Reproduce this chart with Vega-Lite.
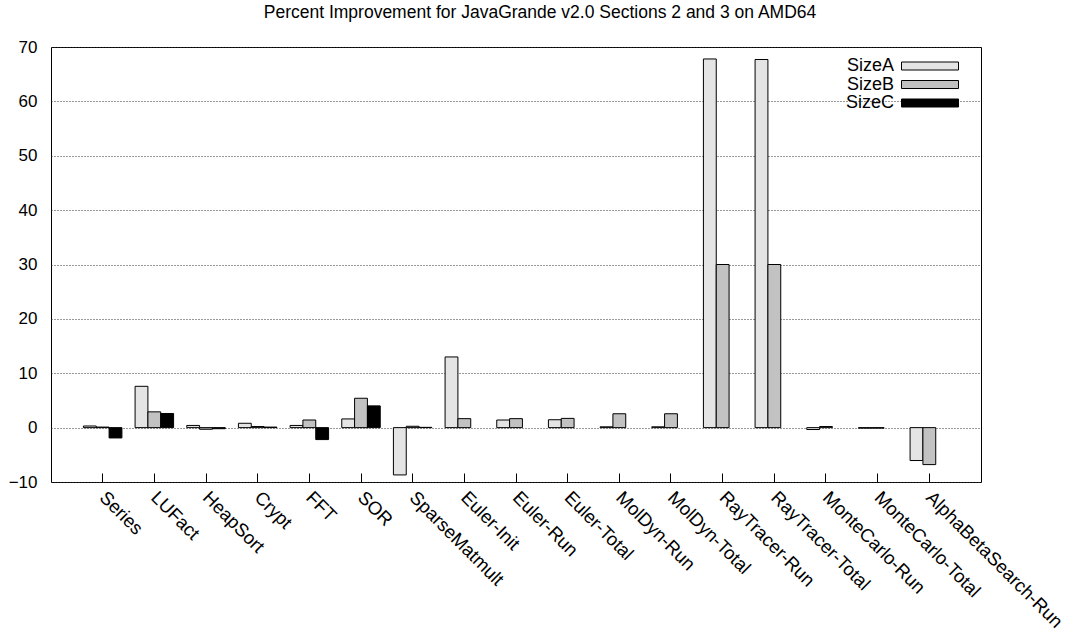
{
  "$schema": "https://vega.github.io/schema/vega-lite/v6.json",
  "autosize": {"type": "none"},
  "padding": {"left": 51, "top": 47, "right": 98, "bottom": 158},
  "width": 930,
  "height": 435,
  "background": "white",
  "title": {
    "text": "Percent Improvement for JavaGrande v2.0 Sections 2 and 3 on AMD64",
    "font": "Liberation Sans",
    "fontSize": 17.5,
    "fontWeight": "normal",
    "color": "black",
    "anchor": "middle",
    "dx": 24,
    "baseline": "alphabetic",
    "offset": 3
  },
  "config": {
    "view": {"stroke": "black", "strokeWidth": 1},
    "axis": {"labelFont": "Liberation Sans", "labelColor": "black"}
  },
  "data": {
    "values": [
      {"benchmark": "Series", "size": "SizeA", "value": 0.3},
      {"benchmark": "Series", "size": "SizeB", "value": 0.1},
      {"benchmark": "Series", "size": "SizeC", "value": -1.9},
      {"benchmark": "LUFact", "size": "SizeA", "value": 7.6},
      {"benchmark": "LUFact", "size": "SizeB", "value": 2.9},
      {"benchmark": "LUFact", "size": "SizeC", "value": 2.6},
      {"benchmark": "HeapSort", "size": "SizeA", "value": 0.4},
      {"benchmark": "HeapSort", "size": "SizeB", "value": -0.3},
      {"benchmark": "HeapSort", "size": "SizeC", "value": -0.2},
      {"benchmark": "Crypt", "size": "SizeA", "value": 0.8},
      {"benchmark": "Crypt", "size": "SizeB", "value": 0.2},
      {"benchmark": "Crypt", "size": "SizeC", "value": 0.1},
      {"benchmark": "FFT", "size": "SizeA", "value": 0.4},
      {"benchmark": "FFT", "size": "SizeB", "value": 1.4},
      {"benchmark": "FFT", "size": "SizeC", "value": -2.2},
      {"benchmark": "SOR", "size": "SizeA", "value": 1.6},
      {"benchmark": "SOR", "size": "SizeB", "value": 5.4},
      {"benchmark": "SOR", "size": "SizeC", "value": 4.0},
      {"benchmark": "SparseMatmult", "size": "SizeA", "value": -8.7},
      {"benchmark": "SparseMatmult", "size": "SizeB", "value": 0.25},
      {"benchmark": "SparseMatmult", "size": "SizeC", "value": 0.05},
      {"benchmark": "Euler-Init", "size": "SizeA", "value": 13.0},
      {"benchmark": "Euler-Init", "size": "SizeB", "value": 1.65},
      {"benchmark": "Euler-Run", "size": "SizeA", "value": 1.4},
      {"benchmark": "Euler-Run", "size": "SizeB", "value": 1.65},
      {"benchmark": "Euler-Total", "size": "SizeA", "value": 1.45},
      {"benchmark": "Euler-Total", "size": "SizeB", "value": 1.7},
      {"benchmark": "MolDyn-Run", "size": "SizeA", "value": 0.15},
      {"benchmark": "MolDyn-Run", "size": "SizeB", "value": 2.55},
      {"benchmark": "MolDyn-Total", "size": "SizeA", "value": 0.15},
      {"benchmark": "MolDyn-Total", "size": "SizeB", "value": 2.55},
      {"benchmark": "RayTracer-Run", "size": "SizeA", "value": 67.8},
      {"benchmark": "RayTracer-Run", "size": "SizeB", "value": 30.0},
      {"benchmark": "RayTracer-Total", "size": "SizeA", "value": 67.7},
      {"benchmark": "RayTracer-Total", "size": "SizeB", "value": 30.0},
      {"benchmark": "MonteCarlo-Run", "size": "SizeA", "value": -0.35},
      {"benchmark": "MonteCarlo-Run", "size": "SizeB", "value": 0.2},
      {"benchmark": "MonteCarlo-Total", "size": "SizeA", "value": -0.1},
      {"benchmark": "MonteCarlo-Total", "size": "SizeB", "value": -0.1},
      {"benchmark": "AlphaBetaSearch-Run", "size": "SizeA", "value": -6.05},
      {"benchmark": "AlphaBetaSearch-Run", "size": "SizeB", "value": -6.8}
    ]
  },
  "mark": {"type": "bar", "stroke": "black", "strokeWidth": 1},
  "encoding": {
    "x": {
      "field": "benchmark",
      "type": "nominal",
      "sort": null,
      "scale": {"paddingInner": 0.255, "paddingOuter": 0.6275},
      "axis": {
        "title": null,
        "domain": false,
        "ticks": true,
        "tickColor": "black",
        "tickSize": -9,
        "tickWidth": 1,
        "labelAngle": 45,
        "labelAlign": "left",
        "labelBaseline": "middle",
        "labelPadding": 21,
        "labelFontSize": 18.5,
        "labelLimit": 400,
        "labelOverlap": false,
        "labelBound": false
      }
    },
    "xOffset": {
      "field": "size",
      "type": "nominal",
      "scale": {"domain": ["SizeA", "SizeB", "SizeC"], "paddingInner": 0, "paddingOuter": 0}
    },
    "y": {
      "field": "value",
      "type": "quantitative",
      "scale": {"domain": [-10, 70], "nice": false, "zero": false},
      "axis": {
        "title": null,
        "domain": false,
        "ticks": false,
        "values": [-10, 0, 10, 20, 30, 40, 50, 60, 70],
        "labelPadding": 14,
        "labelFontSize": 17,
        "grid": true,
        "gridColor": "#333",
        "gridDash": [1, 2],
        "gridWidth": 1
      }
    },
    "fill": {
      "field": "size",
      "type": "nominal",
      "scale": {"domain": ["SizeA", "SizeB", "SizeC"], "range": ["#e4e4e4", "#c2c2c2", "#000000"]},
      "legend": {
        "title": null,
        "orient": "none",
        "legendX": 870,
        "legendY": 10,
        "padding": 0,
        "symbolType": "M-7.125,-1H7.125V1H-7.125Z",
        "symbolSize": 64,
        "symbolStrokeColor": "black",
        "symbolStrokeWidth": 1,
        "labelAlign": "right",
        "labelOffset": -45,
        "labelFont": "Liberation Sans",
        "labelFontSize": 18,
        "labelColor": "black",
        "rowPadding": 0.5
      }
    }
  }
}
